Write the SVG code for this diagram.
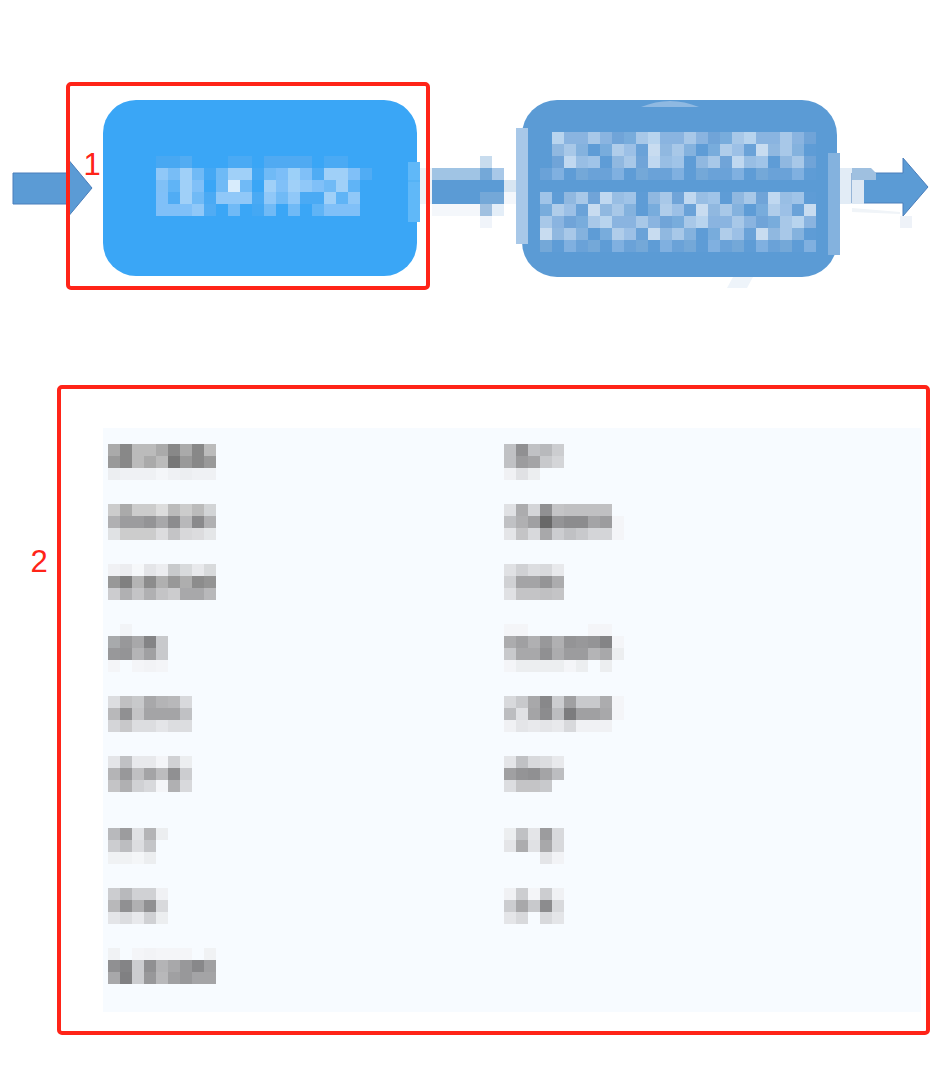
<svg xmlns="http://www.w3.org/2000/svg" xmlns:xlink="http://www.w3.org/1999/xlink" width="933" height="1084" viewBox="0 0 933 1084">
<style>
.m rect{width:12px;height:12px}
.frame{fill:none;stroke:#ff2418;stroke-width:4}
.lbl{font-family:"Liberation Sans",Arial,sans-serif;font-size:31px;fill:#ff2418;text-anchor:middle}
.arr{fill:#5b9bd5;stroke:#4a7ebb;stroke-width:1}
</style>
<defs>
<pattern id="p1" patternUnits="userSpaceOnUse" x="0" y="0" width="96" height="12">
<rect width="12" height="12" fill="#8ab4e0"/><rect x="12" width="12" height="12" fill="#a8c8e8"/><rect x="24" width="12" height="12" fill="#8ab4e0"/><rect x="36" width="12" height="12" fill="#70a4d8"/><rect x="48" width="12" height="12" fill="#78acdc"/><rect x="60" width="12" height="12" fill="#a8c8e8"/><rect x="72" width="12" height="12" fill="#b8d4ee"/><rect x="84" width="12" height="12" fill="#8ab4e0"/>
</pattern>
<pattern id="p1b" xlink:href="#p1" x="48"/>
<pattern id="p2" patternUnits="userSpaceOnUse" x="0" y="0" width="84" height="12">
<rect width="12" height="12" fill="#a0c4e8"/><rect x="12" width="12" height="12" fill="#5e9cd6"/><rect x="24" width="12" height="12" fill="#90b8e0"/><rect x="36" width="12" height="12" fill="#a8c8e8"/><rect x="48" width="12" height="12" fill="#70a4d8"/><rect x="60" width="12" height="12" fill="#c0d8f0"/><rect x="72" width="12" height="12" fill="#98bee4"/>
</pattern>
<pattern id="p2b" xlink:href="#p2" x="36"/>
<pattern id="p3" patternUnits="userSpaceOnUse" x="0" y="0" width="108" height="12">
<rect width="12" height="12" fill="#78acdc"/><rect x="12" width="12" height="12" fill="#b0cdea"/><rect x="24" width="12" height="12" fill="#9cc0e6"/><rect x="36" width="12" height="12" fill="#6aa2d8"/><rect x="48" width="12" height="12" fill="#c8dcf0"/><rect x="60" width="12" height="12" fill="#90b8e0"/><rect x="72" width="12" height="12" fill="#a8c8e8"/><rect x="84" width="12" height="12" fill="#84b2de"/><rect x="96" width="12" height="12" fill="#5e9cd6"/>
</pattern>
<pattern id="p3b" xlink:href="#p3" x="60"/>
<pattern id="p4" patternUnits="userSpaceOnUse" x="0" y="0" width="60" height="12">
<rect width="12" height="12" fill="#6aa2d8"/><rect x="12" width="12" height="12" fill="#80b0e0"/><rect x="24" width="12" height="12" fill="#5e9cd6"/><rect x="36" width="12" height="12" fill="#74a8d8"/><rect x="48" width="12" height="12" fill="#6aa2d8"/>
</pattern>
<pattern id="p5" patternUnits="userSpaceOnUse" x="0" y="0" width="48" height="12">
<rect width="12" height="12" fill="#6aa2d8"/><rect x="12" width="12" height="12" fill="#74a8d8"/><rect x="24" width="12" height="12" fill="#5e9cd6"/><rect x="36" width="12" height="12" fill="#80b0e0"/>
</pattern>
</defs>
<rect width="933" height="1084" fill="#ffffff"/>

<g id="connectors">
<polygon class="arr" points="13,173 67,173 67,158 92,188 67,218 67,204 13,204"/>
<g id="conn-mid">
<rect x="420" y="168" width="12" height="36" fill="#eef3f8"/>
<rect x="432" y="168" width="72" height="12" fill="#a0c4e4"/>
<rect x="432" y="180" width="72" height="24" fill="#5b9bd5"/>
<rect x="432" y="204" width="48" height="12" fill="#f4f7fb"/>
<rect x="480" y="156" width="12" height="12" fill="#c8dcee"/>
<rect x="480" y="168" width="12" height="12" fill="#74a8d8"/>
<rect x="480" y="192" width="24" height="12" fill="#74a8d8"/>
<rect x="480" y="204" width="12" height="12" fill="#a0c0e0"/>
<rect x="480" y="216" width="12" height="12" fill="#f0f4fa"/>
<rect x="492" y="168" width="12" height="12" fill="#a8c8e8"/>
<rect x="492" y="204" width="12" height="12" fill="#e4eef8"/>
<rect x="504" y="180" width="12" height="12" fill="#d8e6f2"/>
<rect x="504" y="192" width="12" height="12" fill="#f4f7fb"/>
</g>
<g id="conn-right">
<rect x="840" y="168" width="12" height="36" fill="#e2ecf6"/>
<polygon class="arr" points="852,173 903,173 903,158 928,187 903,216 903,203 852,203"/>
<polygon points="852,168 871,168 876,173 876,180 852,180" fill="#9fc0e0"/>
<rect x="852" y="180" width="12" height="24" fill="#dde8f4"/>
<polygon points="852,208 900,212 900,214 852,212" fill="#f0f4f8"/>
<rect x="900" y="216" width="12" height="12" fill="#eef2f8"/>
</g>
</g>

<g id="node1">
<rect x="103" y="100" width="314" height="176" rx="33" fill="#3aa6f6"/>
<rect x="408" y="162" width="12" height="60" fill="#60b8f8"/>
<line x1="408" y1="181" x2="420" y2="181" stroke="#4aaef4" stroke-width="1"/>
<g class="m">
<rect x="156" y="156" fill="#48a8f2"/><rect x="168" y="156" fill="#48a8f2"/><rect x="180" y="156" fill="#52acf2"/><rect x="228" y="156" fill="#4aaaf4"/><rect x="240" y="156" fill="#4aaaf4"/><rect x="264" y="156" fill="#50aaf2"/><rect x="276" y="156" fill="#50aaf2"/><rect x="288" y="156" fill="#50aaf2"/><rect x="300" y="156" fill="#50aaf2"/><rect x="324" y="156" fill="#4aaaf4"/><rect x="336" y="156" fill="#4aaaf4"/>
<rect x="156" y="168" fill="#90c8f8"/><rect x="168" y="168" fill="#78bdf6"/><rect x="180" y="168" fill="#a0d0f8"/><rect x="192" y="168" fill="#70baf6"/><rect x="204" y="168" fill="#44a8f4"/><rect x="216" y="168" fill="#6ebaf6"/><rect x="228" y="168" fill="#a0d0f8"/><rect x="240" y="168" fill="#a0d0f8"/><rect x="252" y="168" fill="#44a8f4"/><rect x="264" y="168" fill="#70baf6"/><rect x="276" y="168" fill="#7cbef8"/><rect x="288" y="168" fill="#9cd0f8"/><rect x="300" y="168" fill="#80c0f8"/><rect x="312" y="168" fill="#50acf4"/><rect x="324" y="168" fill="#a0d0f8"/><rect x="336" y="168" fill="#a0d0f8"/><rect x="348" y="168" fill="#80c0f8"/><rect x="360" y="168" fill="#50acf4"/>
<rect x="156" y="180" fill="#80c0f6"/><rect x="168" y="180" fill="#60b4f6"/><rect x="180" y="180" fill="#a0d0f8"/><rect x="192" y="180" fill="#80c0f8"/><rect x="216" y="180" fill="#70baf6"/><rect x="228" y="180" fill="#d8ecfc"/><rect x="240" y="180" fill="#70baf6"/><rect x="264" y="180" fill="#a0d0f8"/><rect x="276" y="180" fill="#80c0f8"/><rect x="288" y="180" fill="#a0d0f8"/><rect x="300" y="180" fill="#90c8f8"/><rect x="312" y="180" fill="#80c0f8"/><rect x="324" y="180" fill="#70baf6"/><rect x="336" y="180" fill="#a0d0f8"/><rect x="348" y="180" fill="#60b4f6"/>
<rect x="156" y="192" fill="#80c0f8"/><rect x="168" y="192" fill="#50acf4"/><rect x="180" y="192" fill="#a0d0f8"/><rect x="192" y="192" fill="#70baf6"/><rect x="204" y="192" fill="#4aaaf4"/><rect x="216" y="192" fill="#90c8f8"/><rect x="228" y="192" fill="#90c8f8"/><rect x="240" y="192" fill="#90c8f8"/><rect x="252" y="192" fill="#4aaaf4"/><rect x="264" y="192" fill="#90c8f8"/><rect x="276" y="192" fill="#70baf6"/><rect x="288" y="192" fill="#90c8f8"/><rect x="300" y="192" fill="#4aaaf4"/><rect x="312" y="192" fill="#4aaaf4"/><rect x="324" y="192" fill="#a0d0f8"/><rect x="336" y="192" fill="#60b4f6"/><rect x="348" y="192" fill="#90c8f8"/>
<rect x="156" y="204" fill="#80c0f8"/><rect x="168" y="204" fill="#80c0f8"/><rect x="180" y="204" fill="#80c0f8"/><rect x="192" y="204" fill="#90c8f8"/><rect x="204" y="204" fill="#50acf4"/><rect x="228" y="204" fill="#70baf6"/><rect x="252" y="204" fill="#44a8f4"/><rect x="264" y="204" fill="#70baf6"/><rect x="288" y="204" fill="#70baf6"/><rect x="312" y="204" fill="#60b4f6"/><rect x="324" y="204" fill="#80c0f8"/><rect x="336" y="204" fill="#80c0f8"/><rect x="348" y="204" fill="#80c0f8"/>
</g>
</g>

<g id="node2">
<rect x="522" y="100" width="315" height="177" rx="35" fill="#5b9bd5"/>
<path d="M641,107 Q670,95 699,107 Z" fill="#8fb9e2"/>
<polygon points="733,277 753,277 747,288 727,288" fill="#eef4fa"/>
<rect x="516" y="128" width="12" height="116" fill="#a8c8e8"/>
<rect x="828" y="153" width="12" height="102" fill="#84b2de"/>
<rect x="552" y="132" width="264" height="12" fill="url(#p1)"/>
<rect x="552" y="144" width="264" height="12" fill="url(#p3b)"/>
<rect x="552" y="156" width="264" height="12" fill="url(#p2)"/>
<rect x="540" y="168" width="276" height="12" fill="url(#p4)"/>
<rect x="540" y="192" width="276" height="12" fill="url(#p2b)"/>
<rect x="540" y="204" width="276" height="12" fill="url(#p3)"/>
<rect x="540" y="216" width="276" height="12" fill="url(#p1b)"/>
<rect x="540" y="228" width="276" height="12" fill="url(#p3b)"/>
<rect x="540" y="240" width="276" height="12" fill="url(#p5)"/>
</g>

<g id="region1">
<rect class="frame" x="68" y="84" width="360" height="204" rx="3"/>
<text class="lbl" x="92" y="175">1</text>
</g>

<g id="region2">
<rect x="103" y="428" width="818" height="584" fill="#f7fbff"/>
<rect class="frame" x="59" y="387" width="869" height="646" rx="3"/>
<text class="lbl" x="39" y="572">2</text>
<g id="list-left" class="m">
<rect x="108" y="444" fill="#aaa"/><rect x="120" y="444" fill="#888"/><rect x="132" y="444" fill="#bbb"/><rect x="144" y="444" fill="#bbb"/><rect x="156" y="444" fill="#aaa"/><rect x="168" y="444" fill="#888"/><rect x="180" y="444" fill="#aaa"/><rect x="192" y="444" fill="#888"/><rect x="204" y="444" fill="#bbb"/>
<rect x="108" y="456" fill="#999"/><rect x="120" y="456" fill="#888"/><rect x="132" y="456" fill="#bbb"/><rect x="144" y="456" fill="#aaa"/><rect x="156" y="456" fill="#bbb"/><rect x="168" y="456" fill="#777"/><rect x="180" y="456" fill="#999"/><rect x="192" y="456" fill="#888"/><rect x="204" y="456" fill="#999"/>
<rect x="108" y="468" fill="#eceef1"/><rect x="120" y="468" fill="#eff1f4"/><rect x="132" y="468" fill="#eff1f4"/><rect x="144" y="468" fill="#eff1f4"/><rect x="156" y="468" fill="#f4f6f9"/><rect x="168" y="468" fill="#eff1f4"/><rect x="180" y="468" fill="#eceef1"/><rect x="192" y="468" fill="#eff1f4"/><rect x="204" y="468" fill="#eff1f4"/>

<rect x="108" y="504" fill="#ccc"/><rect x="120" y="504" fill="#aaa"/><rect x="132" y="504" fill="#ccc"/><rect x="144" y="504" fill="#ccc"/><rect x="156" y="504" fill="#ddd"/><rect x="168" y="504" fill="#bbb"/><rect x="180" y="504" fill="#ccc"/><rect x="192" y="504" fill="#bbb"/><rect x="204" y="504" fill="#d2d4d6"/>
<rect x="108" y="516" fill="#b0b0b2"/><rect x="120" y="516" fill="#9c9c9e"/><rect x="132" y="516" fill="#9c9c9e"/><rect x="144" y="516" fill="#949496"/><rect x="156" y="516" fill="#a8a8aa"/><rect x="168" y="516" fill="#8c8c8e"/><rect x="180" y="516" fill="#b8b8ba"/><rect x="192" y="516" fill="#8a8a8c"/><rect x="204" y="516" fill="#b0b0b2"/>
<rect x="108" y="528" fill="#e0e2e4"/><rect x="120" y="528" fill="#ccc"/><rect x="132" y="528" fill="#ccc"/><rect x="144" y="528" fill="#ccc"/><rect x="156" y="528" fill="#dcdcde"/><rect x="168" y="528" fill="#c4c4c6"/><rect x="180" y="528" fill="#d8d8da"/><rect x="192" y="528" fill="#dcdcde"/><rect x="204" y="528" fill="#e4e6e8"/>

<rect x="108" y="564" fill="#f0f1f4"/><rect x="120" y="564" fill="#ecedf0"/><rect x="132" y="564" fill="#f6f8fa"/><rect x="144" y="564" fill="#e4e5e8"/><rect x="156" y="564" fill="#ecedf0"/><rect x="168" y="564" fill="#c8cacc"/><rect x="180" y="564" fill="#d8dadc"/><rect x="192" y="564" fill="#e8e9ec"/><rect x="204" y="564" fill="#d8dadc"/>
<rect x="108" y="576" fill="#989898"/><rect x="120" y="576" fill="#808080"/><rect x="132" y="576" fill="#b4b4b4"/><rect x="144" y="576" fill="#8c8c8c"/><rect x="156" y="576" fill="#b0b0b0"/><rect x="168" y="576" fill="#989898"/><rect x="180" y="576" fill="#aeaeae"/><rect x="192" y="576" fill="#8c8c8c"/><rect x="204" y="576" fill="#949494"/>
<rect x="108" y="588" fill="#cccccf"/><rect x="120" y="588" fill="#b0b0b2"/><rect x="132" y="588" fill="#c4c4c6"/><rect x="144" y="588" fill="#b0b0b2"/><rect x="156" y="588" fill="#c4c4c6"/><rect x="168" y="588" fill="#ccccce"/><rect x="180" y="588" fill="#a8a8aa"/><rect x="192" y="588" fill="#a8a8aa"/><rect x="204" y="588" fill="#b8b8ba"/>

<rect x="120" y="624" fill="#f2f4f7"/>
<rect x="108" y="636" fill="#a8aaac"/><rect x="120" y="636" fill="#98989a"/><rect x="132" y="636" fill="#a8a8aa"/><rect x="144" y="636" fill="#848486"/><rect x="156" y="636" fill="#c8c9cc"/>
<rect x="108" y="648" fill="#98989a"/><rect x="120" y="648" fill="#949496"/><rect x="132" y="648" fill="#b4b4b6"/><rect x="144" y="648" fill="#a0a0a2"/><rect x="156" y="648" fill="#c8c9cc"/>
<rect x="108" y="660" fill="#f4f5f8"/><rect x="132" y="660" fill="#f4f5f8"/><rect x="144" y="660" fill="#f2f3f6"/><rect x="156" y="660" fill="#f4f5f8"/>

<rect x="108" y="696" fill="#dcdde0"/><rect x="120" y="696" fill="#c0c0c2"/><rect x="132" y="696" fill="#c8c9cb"/><rect x="144" y="696" fill="#a8a8aa"/><rect x="156" y="696" fill="#b4b4b6"/><rect x="168" y="696" fill="#b8b8ba"/><rect x="180" y="696" fill="#d8d9dc"/>
<rect x="108" y="708" fill="#b8b8ba"/><rect x="120" y="708" fill="#909092"/><rect x="132" y="708" fill="#c4c4c6"/><rect x="144" y="708" fill="#a4a4a6"/><rect x="156" y="708" fill="#a4a4a6"/><rect x="168" y="708" fill="#a4a4a6"/><rect x="180" y="708" fill="#c0c1c4"/>
<rect x="108" y="720" fill="#d4d5d8"/><rect x="120" y="720" fill="#c8c8ca"/><rect x="132" y="720" fill="#dcdde0"/><rect x="144" y="720" fill="#dcdde0"/><rect x="156" y="720" fill="#e4e5e8"/><rect x="168" y="720" fill="#dcdde0"/><rect x="180" y="720" fill="#dcdde0"/>

<rect x="108" y="756" fill="#e4e5e8"/><rect x="120" y="756" fill="#c0c1c4"/><rect x="132" y="756" fill="#e8e9ec"/><rect x="144" y="756" fill="#e8e9ec"/><rect x="156" y="756" fill="#f4f5f8"/><rect x="168" y="756" fill="#d0d1d4"/><rect x="180" y="756" fill="#eceef0"/>
<rect x="108" y="768" fill="#b4b4b6"/><rect x="120" y="768" fill="#98989a"/><rect x="132" y="768" fill="#c0c0c2"/><rect x="144" y="768" fill="#a4a4a6"/><rect x="156" y="768" fill="#bcbcbe"/><rect x="168" y="768" fill="#909092"/><rect x="180" y="768" fill="#cccdd0"/>
<rect x="108" y="780" fill="#c4c4c6"/><rect x="120" y="780" fill="#b0b0b2"/><rect x="132" y="780" fill="#d0d1d4"/><rect x="144" y="780" fill="#d8d9dc"/><rect x="156" y="780" fill="#f4f5f8"/><rect x="168" y="780" fill="#b0b0b2"/><rect x="180" y="780" fill="#d8d9dc"/>

<rect x="108" y="828" fill="#b8b9bc"/><rect x="120" y="828" fill="#9c9c9e"/><rect x="132" y="828" fill="#e0e1e4"/><rect x="144" y="828" fill="#b4b4b6"/><rect x="156" y="828" fill="#eceef0"/>
<rect x="108" y="840" fill="#cccdd0"/><rect x="120" y="840" fill="#bcbdc0"/><rect x="132" y="840" fill="#dcdde0"/><rect x="144" y="840" fill="#c4c5c8"/>
<rect x="108" y="852" fill="#f0f2f4"/><rect x="120" y="852" fill="#f0f2f4"/><rect x="132" y="852" fill="#f4f6f8"/><rect x="144" y="852" fill="#eceef0"/>

<rect x="108" y="888" fill="#cccdd0"/><rect x="120" y="888" fill="#b8b9bc"/><rect x="132" y="888" fill="#d0d1d4"/><rect x="144" y="888" fill="#d0d1d4"/><rect x="156" y="888" fill="#f0f1f4"/>
<rect x="108" y="900" fill="#b8b8ba"/><rect x="120" y="900" fill="#909092"/><rect x="132" y="900" fill="#b0b0b2"/><rect x="144" y="900" fill="#909092"/><rect x="156" y="900" fill="#d8d9dc"/>
<rect x="108" y="912" fill="#e4e5e8"/><rect x="120" y="912" fill="#dcdde0"/><rect x="132" y="912" fill="#e8e9ec"/><rect x="144" y="912" fill="#d0d1d4"/><rect x="156" y="912" fill="#eceef0"/>

<rect x="108" y="948" fill="#f0f2f4"/><rect x="132" y="948" fill="#f4f5f8"/><rect x="144" y="948" fill="#f2f3f6"/><rect x="156" y="948" fill="#f4f5f8"/><rect x="168" y="948" fill="#f4f5f8"/><rect x="180" y="948" fill="#f4f5f8"/><rect x="204" y="948" fill="#f0f2f4"/>
<rect x="108" y="960" fill="#909092"/><rect x="120" y="960" fill="#848486"/><rect x="132" y="960" fill="#cccdd0"/><rect x="144" y="960" fill="#909092"/><rect x="156" y="960" fill="#b4b4b6"/><rect x="168" y="960" fill="#a8a8aa"/><rect x="180" y="960" fill="#98989a"/><rect x="192" y="960" fill="#88888a"/><rect x="204" y="960" fill="#a0a0a2"/>
<rect x="108" y="972" fill="#a8a8aa"/><rect x="120" y="972" fill="#808082"/><rect x="132" y="972" fill="#cccdd0"/><rect x="144" y="972" fill="#98989a"/><rect x="156" y="972" fill="#b8b8ba"/><rect x="168" y="972" fill="#a0a0a2"/><rect x="180" y="972" fill="#98989a"/><rect x="192" y="972" fill="#a4a4a6"/><rect x="204" y="972" fill="#a4a4a6"/>
</g>
<g id="list-right" class="m">
<rect x="504" y="444" fill="#c0c1c4"/><rect x="516" y="444" fill="#909092"/><rect x="528" y="444" fill="#c0c1c4"/><rect x="540" y="444" fill="#b8b9bc"/><rect x="552" y="444" fill="#cccdd0"/>
<rect x="504" y="456" fill="#c0c1c4"/><rect x="516" y="456" fill="#9c9c9e"/><rect x="528" y="456" fill="#a4a4a6"/><rect x="540" y="456" fill="#c8c9cc"/><rect x="552" y="456" fill="#d4d5d8"/>
<rect x="504" y="468" fill="#f0f1f4"/><rect x="516" y="468" fill="#e0e1e4"/><rect x="528" y="468" fill="#eceef0"/>

<rect x="504" y="504" fill="#e0e1e4"/><rect x="516" y="504" fill="#acacae"/><rect x="528" y="504" fill="#d4d5d8"/><rect x="540" y="504" fill="#909092"/><rect x="552" y="504" fill="#c4c4c6"/><rect x="564" y="504" fill="#c0c0c2"/><rect x="576" y="504" fill="#c0c0c2"/><rect x="588" y="504" fill="#c0c0c2"/><rect x="600" y="504" fill="#c0c0c2"/>
<rect x="504" y="516" fill="#c0c1c4"/><rect x="516" y="516" fill="#b0b0b2"/><rect x="528" y="516" fill="#a0a0a2"/><rect x="540" y="516" fill="#686868"/><rect x="552" y="516" fill="#949496"/><rect x="564" y="516" fill="#8c8c8e"/><rect x="576" y="516" fill="#8c8c8e"/><rect x="588" y="516" fill="#a4a4a6"/><rect x="600" y="516" fill="#9c9c9e"/><rect x="612" y="516" fill="#f4f5f8"/>
<rect x="504" y="528" fill="#e4e5e8"/><rect x="516" y="528" fill="#c4c4c6"/><rect x="528" y="528" fill="#d8d9dc"/><rect x="540" y="528" fill="#a8a8aa"/><rect x="552" y="528" fill="#cccdd0"/><rect x="564" y="528" fill="#c0c1c4"/><rect x="576" y="528" fill="#c8c9cc"/><rect x="588" y="528" fill="#d4d5d8"/><rect x="600" y="528" fill="#d4d5d8"/><rect x="612" y="528" fill="#f4f5f8"/>

<rect x="504" y="564" fill="#e0e1e4"/><rect x="516" y="564" fill="#d0d1d4"/><rect x="528" y="564" fill="#dcdde0"/><rect x="540" y="564" fill="#d8d9dc"/><rect x="552" y="564" fill="#e8e9ec"/>
<rect x="504" y="576" fill="#d0d1d4"/><rect x="516" y="576" fill="#a4a4a6"/><rect x="528" y="576" fill="#a4a4a6"/><rect x="540" y="576" fill="#949496"/><rect x="552" y="576" fill="#acacae"/>
<rect x="504" y="588" fill="#e0e1e4"/><rect x="516" y="588" fill="#c4c4c6"/><rect x="528" y="588" fill="#c4c4c6"/><rect x="540" y="588" fill="#c0c0c2"/><rect x="552" y="588" fill="#c4c4c6"/>

<rect x="504" y="624" fill="#f4f5f8"/><rect x="516" y="624" fill="#f4f5f8"/><rect x="588" y="624" fill="#f4f5f8"/><rect x="600" y="624" fill="#f4f5f8"/>
<rect x="504" y="636" fill="#acacae"/><rect x="516" y="636" fill="#a0a0a2"/><rect x="528" y="636" fill="#b0b0b2"/><rect x="540" y="636" fill="#98989a"/><rect x="552" y="636" fill="#b0b0b2"/><rect x="564" y="636" fill="#949496"/><rect x="576" y="636" fill="#98989a"/><rect x="588" y="636" fill="#949496"/><rect x="600" y="636" fill="#848486"/><rect x="612" y="636" fill="#f4f5f8"/>
<rect x="504" y="648" fill="#c8c9cc"/><rect x="516" y="648" fill="#a8a8aa"/><rect x="528" y="648" fill="#a8a8aa"/><rect x="540" y="648" fill="#909092"/><rect x="552" y="648" fill="#acacae"/><rect x="564" y="648" fill="#9c9c9e"/><rect x="576" y="648" fill="#9c9c9e"/><rect x="588" y="648" fill="#b4b4b6"/><rect x="600" y="648" fill="#a8a8aa"/><rect x="612" y="648" fill="#eceef0"/>
<rect x="504" y="660" fill="#f4f5f8"/><rect x="516" y="660" fill="#eceef0"/><rect x="528" y="660" fill="#eceef0"/><rect x="540" y="660" fill="#eceef0"/><rect x="552" y="660" fill="#eceef0"/><rect x="564" y="660" fill="#f4f5f8"/><rect x="576" y="660" fill="#eceef0"/><rect x="600" y="660" fill="#eceef0"/>

<rect x="504" y="696" fill="#d8d9dc"/><rect x="516" y="696" fill="#c8c9cc"/><rect x="528" y="696" fill="#a8a8aa"/><rect x="540" y="696" fill="#88888a"/><rect x="552" y="696" fill="#cccdd0"/><rect x="564" y="696" fill="#a0a0a2"/><rect x="576" y="696" fill="#c8c9cc"/><rect x="588" y="696" fill="#c8c9cc"/><rect x="600" y="696" fill="#acacae"/><rect x="612" y="696" fill="#f4f5f8"/>
<rect x="504" y="708" fill="#bcbdc0"/><rect x="516" y="708" fill="#e0e1e4"/><rect x="528" y="708" fill="#a4a4a6"/><rect x="540" y="708" fill="#8c8c8e"/><rect x="552" y="708" fill="#bcbdc0"/><rect x="564" y="708" fill="#7c7c7e"/><rect x="576" y="708" fill="#a0a0a2"/><rect x="588" y="708" fill="#a0a0a2"/><rect x="600" y="708" fill="#a8a8aa"/><rect x="612" y="708" fill="#f4f5f8"/>
<rect x="504" y="720" fill="#f0f1f4"/><rect x="516" y="720" fill="#e4e5e8"/><rect x="528" y="720" fill="#e8e9ec"/><rect x="540" y="720" fill="#e4e5e8"/><rect x="552" y="720" fill="#e8e9ec"/><rect x="564" y="720" fill="#d8d9dc"/><rect x="576" y="720" fill="#f0f1f4"/><rect x="588" y="720" fill="#f0f1f4"/><rect x="600" y="720" fill="#f0f1f4"/>

<rect x="504" y="756" fill="#e4e5e8"/><rect x="516" y="756" fill="#c0c1c4"/><rect x="528" y="756" fill="#d8d9dc"/><rect x="540" y="756" fill="#dcdde0"/><rect x="552" y="756" fill="#e8e9ec"/>
<rect x="504" y="768" fill="#a0a0a2"/><rect x="516" y="768" fill="#949496"/><rect x="528" y="768" fill="#909092"/><rect x="540" y="768" fill="#a4a4a6"/><rect x="552" y="768" fill="#bcbdc0"/>
<rect x="504" y="780" fill="#dcdde0"/><rect x="516" y="780" fill="#c4c4c6"/><rect x="528" y="780" fill="#c4c4c6"/><rect x="540" y="780" fill="#c8c9cc"/>

<rect x="504" y="828" fill="#eceef0"/><rect x="516" y="828" fill="#c0c1c4"/><rect x="528" y="828" fill="#e4e5e8"/><rect x="540" y="828" fill="#9c9c9e"/><rect x="552" y="828" fill="#d8d9dc"/>
<rect x="504" y="840" fill="#e4e5e8"/><rect x="516" y="840" fill="#acacae"/><rect x="528" y="840" fill="#e0e1e4"/><rect x="540" y="840" fill="#a8a8aa"/><rect x="552" y="840" fill="#d8d9dc"/>
<rect x="540" y="852" fill="#e4e5e8"/><rect x="552" y="852" fill="#f2f3f6"/>

<rect x="504" y="888" fill="#f0f1f4"/><rect x="516" y="888" fill="#cccdd0"/><rect x="528" y="888" fill="#f4f5f8"/><rect x="540" y="888" fill="#cccdd0"/><rect x="552" y="888" fill="#f0f1f4"/>
<rect x="504" y="900" fill="#cccdd0"/><rect x="516" y="900" fill="#a8a8aa"/><rect x="528" y="900" fill="#c8c9cc"/><rect x="540" y="900" fill="#8c8c8e"/><rect x="552" y="900" fill="#d8d9dc"/>
<rect x="504" y="912" fill="#e4e5e8"/><rect x="516" y="912" fill="#d8d9dc"/><rect x="540" y="912" fill="#d8d9dc"/><rect x="552" y="912" fill="#e4e5e8"/>
</g>
</g>
</svg>
